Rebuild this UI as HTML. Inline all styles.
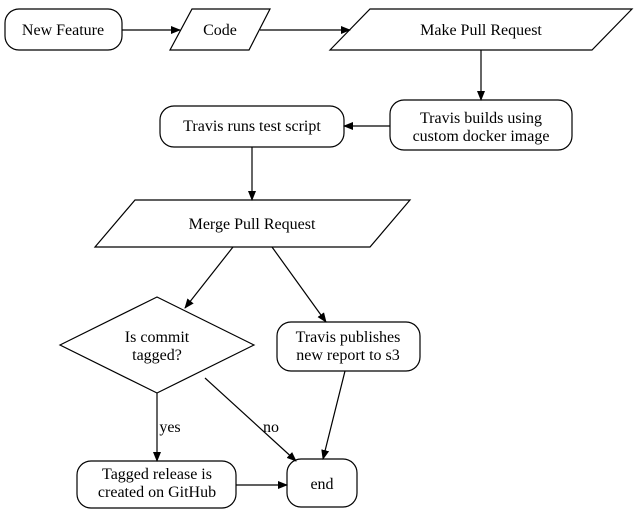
<!DOCTYPE html>
<html><head><meta charset="utf-8"><style>
html,body{margin:0;padding:0;background:#fff;}
svg{display:block;}
svg text{font-family:"Liberation Serif","Times New Roman",Times,serif;font-size:16px;fill:#000;text-anchor:middle;}
</style></head><body>
<svg width="638" height="513" viewBox="0 0 638 513" xmlns="http://www.w3.org/2000/svg">
<defs><marker id="a" markerWidth="10" markerHeight="8" refX="9" refY="4" orient="auto" markerUnits="userSpaceOnUse"><path d="M0,0 L10,4 L0,8 z" fill="#000"/></marker></defs>
<g fill="none" stroke="#000" stroke-width="1.2">
<rect x="5" y="9" width="117" height="41" rx="14"/>
<polygon points="170,50 192,9 270,9 249,50"/>
<polygon points="330,50 370,9 632,9 592,50"/>
<rect x="390" y="100" width="182" height="50" rx="14"/>
<rect x="160" y="106" width="184" height="41" rx="14"/>
<polygon points="95,247 135,200 410,200 370,247"/>
<polygon points="60,345 157,297 254,345 157,393"/>
<rect x="277" y="322" width="143" height="49" rx="14"/>
<rect x="77" y="461" width="159" height="47" rx="14"/>
<rect x="287" y="459" width="70" height="48" rx="14"/>
<line x1="122" y1="30" x2="180" y2="30" marker-end="url(#a)"/>
<line x1="260" y1="30" x2="350" y2="30" marker-end="url(#a)"/>
<line x1="481" y1="50" x2="481" y2="100" marker-end="url(#a)"/>
<line x1="390" y1="126" x2="344" y2="126" marker-end="url(#a)"/>
<line x1="252" y1="147" x2="252" y2="200" marker-end="url(#a)"/>
<line x1="233" y1="247" x2="185" y2="308" marker-end="url(#a)"/>
<line x1="272" y1="247" x2="326" y2="322" marker-end="url(#a)"/>
<line x1="157" y1="393" x2="157" y2="461" marker-end="url(#a)"/>
<line x1="205" y1="378" x2="296" y2="461" marker-end="url(#a)"/>
<line x1="345" y1="371" x2="323" y2="459" marker-end="url(#a)"/>
<line x1="236" y1="485" x2="287" y2="485" marker-end="url(#a)"/>
</g>
<g font-family="Liberation Serif, Times New Roman, serif" font-size="16" text-anchor="middle">
<text x="63" y="35">New Feature</text>
<text x="220" y="35">Code</text>
<text x="481" y="35">Make Pull Request</text>
<text x="481" y="123">Travis builds using</text>
<text x="481" y="141">custom docker image</text>
<text x="252" y="131">Travis runs test script</text>
<text x="252" y="229">Merge Pull Request</text>
<text x="157" y="342">Is commit</text>
<text x="157" y="360">tagged?</text>
<text x="348" y="342">Travis publishes</text>
<text x="348" y="360">new report to s3</text>
<text x="170" y="432">yes</text>
<text x="271" y="432">no</text>
<text x="157" y="479">Tagged release is</text>
<text x="157" y="497">created on GitHub</text>
<text x="322" y="489">end</text>
</g>
</svg>
</body></html>
